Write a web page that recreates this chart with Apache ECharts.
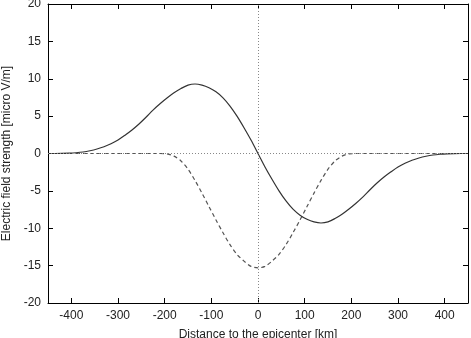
<!DOCTYPE html>
<html>
<head>
<meta charset="utf-8">
<script src="https://cdn.jsdelivr.net/npm/echarts@6/dist/echarts.min.js"></script>
<style>
    html, body { margin: 0; padding: 0; background: #fff; }
    #chart { width: 471px; height: 338px; }
</style>
</head>
<body>
<div id="chart"></div>
<script>
// distance to the epicenter [km], every 15 km
const distances = [
    -450, -435, -420, -405, -390, -375, -360, -345, -330, -315, -300, -285, -270, -255, -240, -225,
    -210, -195, -180, -165, -150, -135, -120, -105, -90, -75, -60, -45, -30, -15,
    0, 15, 30, 45, 60, 75, 90, 105, 120, 135, 150, 165, 180, 195, 210,
    225, 240, 255, 270, 285, 300, 315, 330, 345, 360, 375, 390, 405, 420, 435, 450
];
// solid curve [micro V/m]
const solidField = [
    0, 0, 0.01, 0.04, 0.1, 0.2, 0.37, 0.6, 0.9, 1.3, 1.8, 2.45, 3.15, 3.95, 4.85, 5.8,
    6.65, 7.42, 8.12, 8.7, 9.15, 9.3, 9.15, 8.8, 8.25, 7.45, 6.35, 5.0, 3.45, 1.8,
    0, -1.8, -3.45, -5.0, -6.35, -7.45, -8.25, -8.8, -9.15, -9.3, -9.15, -8.7, -8.12, -7.42, -6.65,
    -5.8, -4.85, -3.95, -3.15, -2.45, -1.8, -1.3, -0.9, -0.6, -0.37, -0.2, -0.1, -0.04, -0.01, 0, 0
];
// dashed curve [micro V/m]
const dashedField = [
    0, 0, 0, 0, 0, 0, 0, 0, 0, 0, 0, 0, 0, 0, 0, 0,
    0, -0.05, -0.35, -1.0, -2.1, -3.6, -5.3, -7.1, -8.9, -10.6, -12.2, -13.5, -14.4, -15.1,
    -15.3, -15.1, -14.4, -13.5, -12.2, -10.6, -8.9, -7.1, -5.3, -3.6, -2.1, -1.0, -0.35, -0.05, 0,
    0, 0, 0, 0, 0, 0, 0, 0, 0, 0, 0, 0, 0, 0, 0, 0
];
const xTicks = [-400, -300, -200, -100, 0, 100, 200, 300, 400];

const font = "'Liberation Sans', Arial, sans-serif";

const pairs = arr => distances.map((d, i) => [d, arr[i]]);

const frameAxis = {
    axisLine: { show: true, onZero: false, lineStyle: { color: "#000", width: 1 } },
    splitLine: { show: false },
};

const chart = echarts.init(document.getElementById("chart"), null, { renderer: "canvas" });

chart.setOption({
    animation: false,
    grid: { left: 48, right: 3, top: 4, bottom: 35, containLabel: false, outerBoundsMode: "none" },
    xAxis: [
        {
            ...frameAxis,
            type: "value",
            position: "bottom",
            min: -450,
            max: 450,
            name: "Distance to the epicenter [km]",
            nameLocation: "middle",
            nameGap: 26,
            nameTextStyle: { color: "#222", fontSize: 12, fontFamily: font },
            axisTick: { show: true, inside: true, length: 5, customValues: xTicks, lineStyle: { color: "#000" } },
            axisLabel: { color: "#222", fontSize: 12, fontFamily: font, margin: 7, customValues: xTicks },
        },
        {
            ...frameAxis,
            type: "value",
            position: "top",
            min: -450,
            max: 450,
            axisTick: { show: true, inside: true, length: 5, customValues: xTicks, lineStyle: { color: "#000" } },
            axisLabel: { show: false },
        },
    ],
    yAxis: [
        {
            ...frameAxis,
            type: "value",
            position: "left",
            min: -20,
            max: 20,
            interval: 5,
            name: "Electric field strength [micro V/m]",
            nameLocation: "middle",
            nameGap: 34,
            nameTextStyle: { color: "#222", fontSize: 12, fontFamily: font },
            axisTick: { show: true, inside: true, length: 5, lineStyle: { color: "#000" } },
            axisLabel: { color: "#222", fontSize: 12, fontFamily: font, margin: 7 },
        },
        {
            ...frameAxis,
            type: "value",
            position: "right",
            min: -20,
            max: 20,
            interval: 5,
            axisTick: { show: true, inside: true, length: 5, lineStyle: { color: "#000" } },
            axisLabel: { show: false },
        },
    ],
    series: [
        {
            type: "line",
            data: pairs(dashedField),
            smooth: 0.3,
            showSymbol: false,
            lineStyle: { color: "#555", width: 1.2, type: [4, 3] },
            markLine: {
                silent: true,
                symbol: "none",
                label: { show: false },
                lineStyle: { color: "#888", width: 1, type: [1, 2] },
                data: [{ xAxis: 0 }, { yAxis: 0 }],
            },
            z: 2,
        },
        {
            type: "line",
            data: pairs(solidField),
            smooth: 0.3,
            showSymbol: false,
            lineStyle: { color: "#333", width: 1.2, type: "solid" },
            z: 3,
        },
    ],
});
</script>
</body>
</html>
